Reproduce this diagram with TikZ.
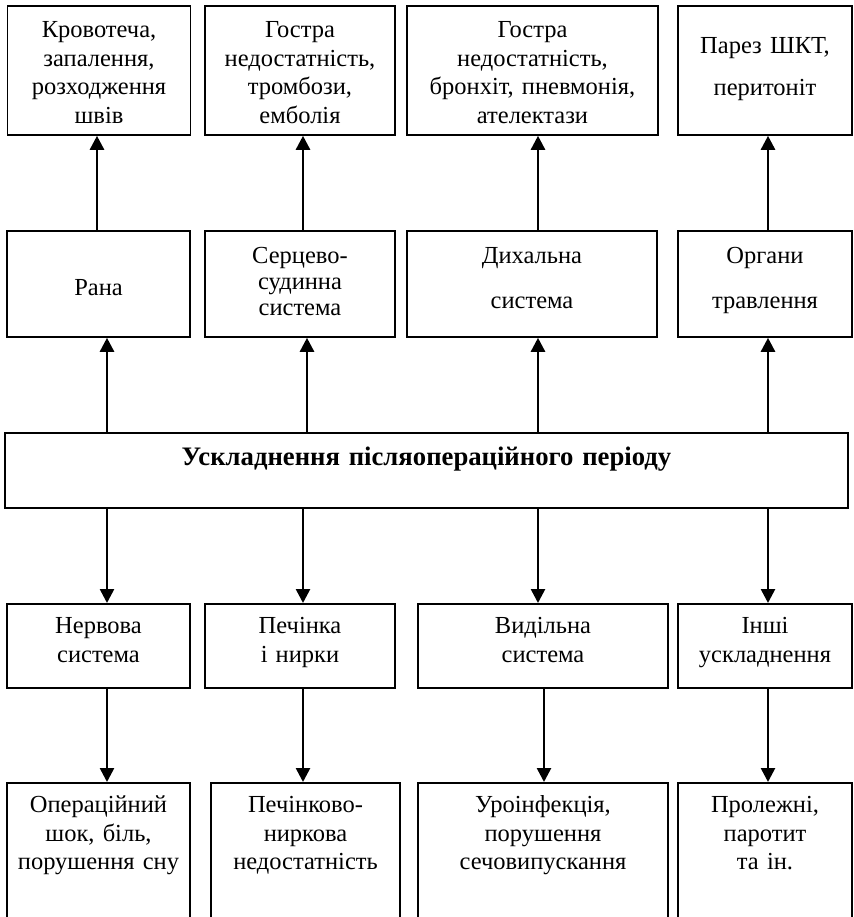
\documentclass[tikz,border=0pt]{standalone}
\usepackage{fontspec}
\setmainfont{Liberation Serif}
\usetikzlibrary{arrows.meta, positioning}

\begin{document}
\begin{tikzpicture}[x=1pt, y=-1pt, >={Triangle[length=14pt, width=14pt]},
  font=\fontsize{24.5}{28.5}\selectfont,
  box/.style={draw, line width=1.8pt, align=center, inner sep=0pt, anchor=north},
  rowA/.style={box, text height=32pt, text depth=97pt},
  rowB/.style={box, text height=33pt, text depth=73pt},
  rowC/.style={box, text height=30pt, text depth=54pt},
  rowD/.style={box, text height=30pt, text depth=150pt},
  lnk/.style={->, line width=2.6pt}]
  \useasboundingbox (0,0) rectangle (853,917);
  \clip (0,0) rectangle (853,917);
  % centre
  \node[box, text width=843, text height=33pt, text depth=42pt,
    font=\fontsize{26.7}{30}\selectfont\bfseries]
    (uskl) at (426.5,432) {Ускладнення післяопераційного періоду};
  % row above the centre
  \node[rowB, text width=183, text height=65pt, text depth=41pt] (rana) at (98.5,230) {Рана};
  \node[rowB, text width=190, font=\fontsize{24.5}{26}\selectfont] (serce) at (300,230)
    {Серцево-\\судинна\\система};
  \node[rowB, text width=250] (dyh) at (532,230) {Дихальна\\[16pt]система};
  \node[rowB, text width=174] (trav) at (765,230) {Органи\\[16pt]травлення};
  % top row
  \node[rowA, text width=183] (krov) at (99,5) {Кровотеча,\\запалення,\\розходження\\швів};
  \node[rowA, text width=190] (tromb) at (300,5) {Гостра\\недостатність,\\тромбози,\\емболія};
  \node[rowA, text width=251] (bronh) at (532.5,5) {Гостра\\недостатність,\\бронхіт, пневмонія,\\ателектази};
  \node[rowA, text width=174, text height=48pt, text depth=81pt] (parez) at (765,5)
    {Парез ШКТ,\\[13pt]перитоніт};
  % row below the centre
  \node[rowC, text width=183] (nerv) at (98.5,603) {Нервова\\система};
  \node[rowC, text width=190] (pech) at (300,603) {Печінка\\і нирки};
  \node[rowC, text width=250] (vyd) at (543,603) {Видільна\\система};
  \node[rowC, text width=174] (inshi) at (765,603) {Інші\\ускладнення};
  % bottom row
  \node[rowD, text width=183] (shok) at (98.5,782) {Операційний\\шок, біль,\\порушення сну};
  \node[rowD, text width=189] (nedost) at (305.5,782) {Печінково-\\ниркова\\недостатність};
  \node[rowD, text width=250] (uro) at (543,782) {Уроінфекція,\\порушення\\сечовипускання};
  \node[rowD, text width=174] (prol) at (765,782) {Пролежні,\\паротит\\та ін.};

  \draw[lnk] ([xshift=-1.5]rana.north) -- ([xshift=-1.5]rana.north |- krov.south);
  \draw[lnk] ([xshift=3]serce.north) -- ([xshift=3]serce.north |- tromb.south);
  \draw[lnk] ([xshift=6]dyh.north) -- ([xshift=6]dyh.north |- bronh.south);
  \draw[lnk] ([xshift=3]trav.north) -- ([xshift=3]trav.north |- parez.south);

  \draw[lnk] ([xshift=8.5]rana.south |- uskl.north) -- ([xshift=8.5]rana.south);
  \draw[lnk] ([xshift=7]serce.south |- uskl.north) -- ([xshift=7]serce.south);
  \draw[lnk] ([xshift=6]dyh.south |- uskl.north) -- ([xshift=6]dyh.south);
  \draw[lnk] ([xshift=3]trav.south |- uskl.north) -- ([xshift=3]trav.south);

  \draw[lnk] ([xshift=8.5]nerv.north |- uskl.south) -- ([xshift=8.5]nerv.north);
  \draw[lnk] ([xshift=3]pech.north |- uskl.south) -- ([xshift=3]pech.north);
  \draw[lnk] ([xshift=-5]vyd.north |- uskl.south) -- ([xshift=-5]vyd.north);
  \draw[lnk] ([xshift=3]inshi.north |- uskl.south) -- ([xshift=3]inshi.north);

  \draw[lnk] ([xshift=8.5]nerv.south) -- ([xshift=8.5]nerv.south |- shok.north);
  \draw[lnk] ([xshift=3]pech.south) -- ([xshift=3]pech.south |- nedost.north);
  \draw[lnk] ([xshift=1]vyd.south) -- ([xshift=1]vyd.south |- uro.north);
  \draw[lnk] ([xshift=3]inshi.south) -- ([xshift=3]inshi.south |- prol.north);
\end{tikzpicture}
\end{document}
